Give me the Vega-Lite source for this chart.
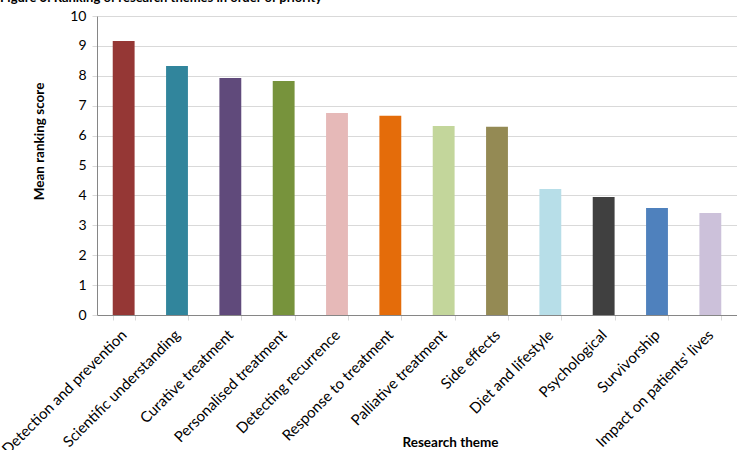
{
  "$schema": "https://vega.github.io/schema/vega-lite/v6.json",
  "autosize": "none",
  "width": 640,
  "height": 299,
  "padding": {"left": 97, "top": 16, "right": 0, "bottom": 135},
  "background": "white",
  "title": {
    "text": "Figure 3: Ranking of research themes in order of priority",
    "anchor": "start",
    "frame": "group",
    "dx": -97,
    "offset": 4,
    "fontSize": 13,
    "font": "Lato",
    "fontWeight": "bold",
    "color": "#000000"
  },
  "config": {
    "view": {"stroke": null},
    "font": "Lato",
    "axis": {
      "labelFont": "Lato",
      "titleFont": "Lato",
      "labelColor": "#000000",
      "titleColor": "#000000",
      "domainColor": "#868686",
      "tickColor": "#D9D9D9",
      "gridColor": "#D9D9D9",
      "labelFontSize": 14,
      "titleFontSize": 13.5,
      "titleFontWeight": "bold"
    }
  },
  "data": {
    "values": [
      {"theme": "Detection and prevention", "score": 9.16},
      {"theme": "Scientific understanding", "score": 8.33},
      {"theme": "Curative treatment", "score": 7.93},
      {"theme": "Personalised treatment", "score": 7.83},
      {"theme": "Detecting recurrence", "score": 6.76},
      {"theme": "Response to treatment", "score": 6.66},
      {"theme": "Palliative treatment", "score": 6.32},
      {"theme": "Side effects", "score": 6.3},
      {"theme": "Diet and lifestyle", "score": 4.21},
      {"theme": "Psychological", "score": 3.95},
      {"theme": "Survivorship", "score": 3.58},
      {"theme": "Impact on patients' lives", "score": 3.41}
    ]
  },
  "mark": {"type": "bar"},
  "encoding": {
    "x": {
      "field": "theme",
      "type": "nominal",
      "sort": null,
      "scale": {"paddingInner": 0.59, "paddingOuter": 0.295},
      "axis": {
        "title": "Research theme",
        "titleX": 353,
        "titleY": 120,
        "labelAngle": -45,
        "labelAlign": "right",
        "labelBaseline": "middle",
        "labelFontSize": 15,
        "labelPadding": 12,
        "tickBand": "extent",
        "tickSize": 5,
        "tickColor": "#D9D9D9",
        "domainColor": "#868686",
        "grid": false
      }
    },
    "y": {
      "field": "score",
      "type": "quantitative",
      "scale": {"domain": [0, 10], "nice": false},
      "axis": {
        "title": "Mean ranking score",
        "titleX": -51,
        "titleY": 125,
        "titleAnchor": "middle",
        "values": [0, 1, 2, 3, 4, 5, 6, 7, 8, 9, 10],
        "grid": true,
        "tickSize": 5,
        "labelPadding": 6,
        "tickColor": "#D9D9D9",
        "domainColor": "#868686"
      }
    },
    "color": {
      "field": "theme",
      "type": "nominal",
      "legend": null,
      "scale": {
        "domain": ["Detection and prevention", "Scientific understanding", "Curative treatment", "Personalised treatment", "Detecting recurrence", "Response to treatment", "Palliative treatment", "Side effects", "Diet and lifestyle", "Psychological", "Survivorship", "Impact on patients' lives"],
        "range": ["#953735", "#31859C", "#604A7B", "#77933C", "#E6B9B8", "#E46C0A", "#C3D69B", "#948A54", "#B7DEE8", "#404040", "#4F81BD", "#CCC1DA"]
      }
    }
  }
}
